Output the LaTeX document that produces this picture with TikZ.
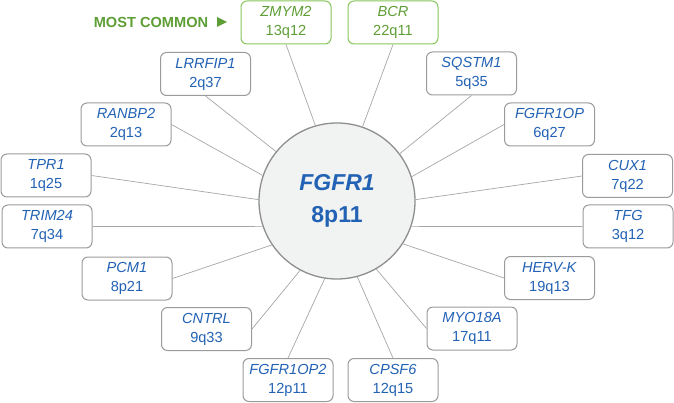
\documentclass[tikz,border=0pt]{standalone}
\usepackage{fontspec}
\setmainfont{Liberation Sans}
\definecolor{geneblue}{HTML}{2262B4}
\definecolor{greentxt}{HTML}{5E9E36}
\definecolor{greenline}{HTML}{86C65A}
\definecolor{boxgray}{HTML}{9B9B9B}
\definecolor{linegray}{HTML}{A6A6A6}
\definecolor{circfill}{HTML}{F1F2F2}
\definecolor{circline}{HTML}{8E8E8E}
\tikzset{
  genebox/.style={draw=boxgray, line width=1pt, rounded corners=6pt, fill=white,
    minimum width=90pt, minimum height=43pt, inner sep=0pt, align=center,
    text=geneblue, font=\fontsize{14.6}{19}\selectfont},
  greenbox/.style={genebox, draw=greenline, text=greentxt},
  hub/.style={circle, draw=circline, line width=1.3pt, fill=circfill,
    minimum size=156pt, inner sep=0pt, align=center, text=geneblue,
    font=\fontsize{23}{32}\selectfont\bfseries},
  conn/.style={draw=linegray, line width=0.7pt}
}
\begin{document}
\begin{tikzpicture}[x=1pt,y=-1pt]
\useasboundingbox (0,0) rectangle (674,403);
% hub
\node[hub] (c) at (337,201) {\textit{FGFR1}\\8p11};
% boxes
\node[greenbox] (zmym2) at (286,22.5) {\textit{ZMYM2}\\13q12};
\node[greenbox] (bcr) at (393,22.5) {\textit{BCR}\\22q11};
\node[genebox] (lrrfip1) at (205.5,74) {\textit{LRRFIP1}\\2q37};
\node[genebox] (sqstm1) at (471.5,73.5) {\textit{SQSTM1}\\5q35};
\node[genebox] (ranbp2) at (126,124.5) {\textit{RANBP2}\\2q13};
\node[genebox] (fgfr1op) at (549.5,124.5) {\textit{FGFR1OP}\\6q27};
\node[genebox] (tpr1) at (46,175.5) {\textit{TPR1}\\1q25};
\node[genebox] (cux1) at (627.5,176) {\textit{CUX1}\\7q22};
\node[genebox] (trim24) at (47,226.5) {\textit{TRIM24}\\7q34};
\node[genebox] (tfg) at (628,226.5) {\textit{TFG}\\3q12};
\node[genebox] (pcm1) at (127,278.5) {\textit{PCM1}\\8p21};
\node[genebox] (hervk) at (549.5,278) {\textit{HERV-K}\\19q13};
\node[genebox] (cntrl) at (206.5,329) {\textit{CNTRL}\\9q33};
\node[genebox] (myo18a) at (472,328.5) {\textit{MYO18A}\\17q11};
\node[genebox] (fgfr1op2) at (288,380) {\textit{FGFR1OP2}\\12p11};
\node[genebox] (cpsf6) at (393,380) {\textit{CPSF6}\\12q15};
% connectors
\path[conn] (c.106) -- (zmym2.south);
\path[conn] (c.71) -- (bcr.south);
\path[conn] (c.141) -- (lrrfip1.south);
\path[conn] (c.37) -- (sqstm1.south);
\path[conn] (c.161) -- (ranbp2.east);
\path[conn] (c.18) -- (fgfr1op.west);
\path[conn] (c.179) -- (tpr1.east);
\path[conn] (c.1) -- (cux1.west);
\path[conn] (c.199) -- (trim24.east);
\path[conn] (c.-19) -- (tfg.west);
\path[conn] (c.214) -- (pcm1.east);
\path[conn] (c.-33) -- (hervk.west);
\path[conn] (c.242) -- (cntrl.east);
\path[conn] (c.-60) -- (myo18a.west);
\path[conn] (c.261) -- (fgfr1op2.north);
\path[conn] (c.-75) -- (cpsf6.north);
% label
\node[text=greentxt, font=\fontsize{14.6}{16}\selectfont\bfseries, inner sep=0pt] (mc) at (151,22) {MOST COMMON};
\fill[greentxt] (217,17) -- (227,22) -- (217,27) -- cycle;
\end{tikzpicture}
\end{document}
